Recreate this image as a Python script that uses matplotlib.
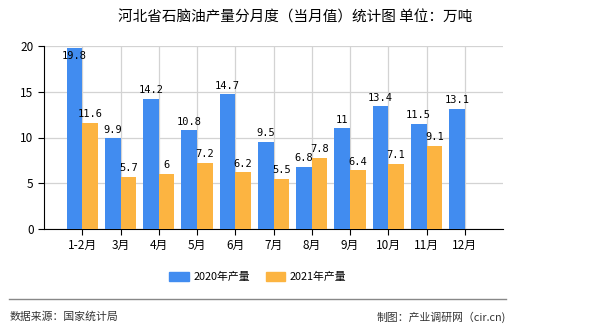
import numpy as np
import matplotlib
matplotlib.use('Agg')
import matplotlib.pyplot as plt
from matplotlib.patches import Patch
from matplotlib.lines import Line2D

plt.rcParams['font.family'] = ['Noto Sans CJK SC', 'DejaVu Sans']

# data
months = ['1-2月', '3月', '4月', '5月', '6月', '7月', '8月', '9月', '10月', '11月', '12月']
prod_2020 = [19.8, 9.9, 14.2, 10.8, 14.7, 9.5, 6.8, 11, 13.4, 11.5, 13.1]
prod_2021 = [11.6, 5.7, 6, 7.2, 6.2, 5.5, 7.8, 6.4, 7.1, 9.1, None]
labels_2020 = ['19.8', '9.9', '14.2', '10.8', '14.7', '9.5', '6.8', '11', '13.4', '11.5', '13.1']
labels_2021 = ['11.6', '5.7', '6', '7.2', '6.2', '5.5', '7.8', '6.4', '7.1', '9.1', '']

c20 = '#418cf0'
c21 = '#fcb441'

fig = plt.figure(figsize=(5.9, 3.3), dpi=100)
ax = fig.add_axes([44/590, 1-229/330, 459/590, 183/330])

x = np.arange(len(months))
w = 0.41
v21 = [np.nan if v is None else v for v in prod_2021]
ax.bar(x - w/2, prod_2020, width=w, color=c20, zorder=3)
ax.bar(x + w/2, v21, width=w, color=c21, zorder=3)

for i in range(len(months)):
    y = min(prod_2020[i] + 0.4, 18.4)
    ax.text(x[i] - w/2, y, labels_2020[i], ha='center', va='bottom',
            fontsize=7.5, family='DejaVu Sans Mono', zorder=4)
    if labels_2021[i]:
        ax.text(x[i] + w/2, v21[i] + 0.4, labels_2021[i], ha='center', va='bottom',
                fontsize=7.5, family='DejaVu Sans Mono', zorder=4)

ax.set_xlim(-1, len(months))
ax.set_ylim(0, 20)
ax.set_xticks(x)
ax.set_xticklabels(months, fontsize=8.5)
ax.set_yticks([0, 5, 10, 15, 20])
ax.tick_params(axis='y', labelsize=8.5, length=4, direction='out')
ax.tick_params(axis='x', length=4, direction='out')
ax.grid(True, color='#d3d3d3', linewidth=0.9, zorder=0)
for s in ['top', 'right']:
    ax.spines[s].set_visible(False)
ax.spines['left'].set_color('black')
ax.spines['bottom'].set_color('black')

fig.text(0.5, 1-18/330, '河北省石脑油产量分月度（当月值）统计图 单位：万吨',
         ha='center', va='center', fontsize=10.5)

handles = [Patch(color=c20, label='2020年产量'), Patch(color=c21, label='2021年产量')]
fig.legend(handles=handles, loc='center', bbox_to_anchor=(0.437, 1-277/330), ncol=2,
           frameon=False, fontsize=7.8, handlelength=1.8, handleheight=0.9,
           columnspacing=1.5, handletextpad=0.4)

fig.add_artist(Line2D([9/590, 506/590], [1-299/330, 1-299/330], color='#888888', linewidth=1))
fig.text(10/590, 1-317/330, '数据来源：国家统计局', ha='left', va='center', fontsize=7.8, color='#333333')
fig.text(506/590, 1-317/330, '制图：产业调研网（cir.cn)', ha='right', va='center', fontsize=7.8, color='#333333')

fig.savefig('out.png', dpi=100)
